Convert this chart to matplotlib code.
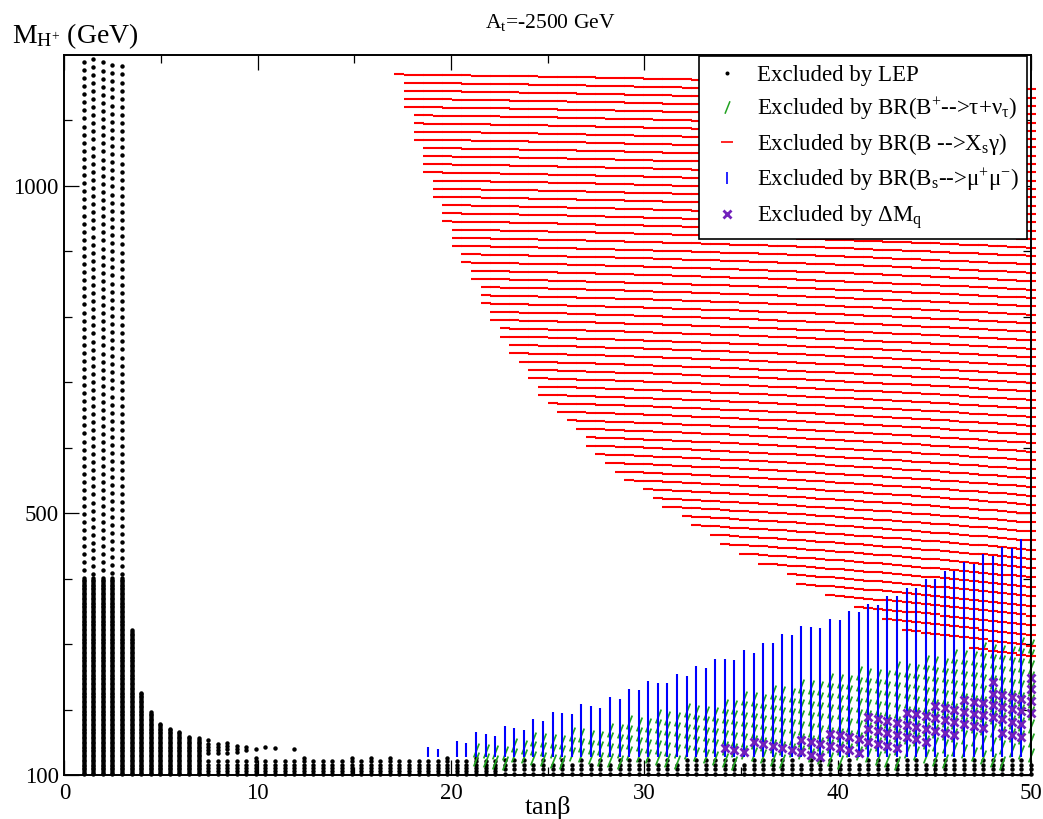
import numpy as np
import matplotlib.pyplot as plt
from matplotlib.path import Path
from matplotlib.lines import Line2D

plt.rcParams['font.family'] = 'Liberation Serif'
plt.rcParams['mathtext.fontset'] = 'custom'
plt.rcParams['mathtext.rm'] = 'Liberation Serif'
plt.rcParams['mathtext.it'] = 'Liberation Serif:italic'

# scan grid: 100 tan(beta) columns, M_A rows (GeV)
tanb = np.linspace(1.0, 50.0, 100)
mA_rows = np.arange(1183.0, 0.0, -12.4)
MW = 80.4
loop_c = 24.0          # tan(beta)^2 shift of M_H+^2 (GeV^2), read from row slopes

# LEP: dense columns, bulk top per column (GeV)
lep_top = [402, 402, 402, 402, 402, 321, 228, 198, 180, 173,
           166, 160, 156, 125, 125, 125, 125, 125, 127, 124,
           125, 122, 125, 127, 123, 125, 122, 125, 128, 124,
           127, 123, 127, 123, 125, 122, 125, 123, 126, 122,
           125, 128, 124, 122, 125.5, 128, 125.5, 121, 125.5, 121,
           125.5, 123, 125.5, 121.5, 125.5, 120, 128, 124, 128, 124,
           121.5, 124, 118.5, 128, 125.5, 126, 128, 124, 128, 122,
           128, 126, 129, 124, 128, 123, 129, 126, 128, 121,
           124, 120, 130.5, 128, 123, 129.5, 128, 130.5, 123, 128,
           129, 128, 130.5, 128, 125.5, 130.5, 128, 129, 130.5, 120]
lep_step = [2.5] * 13 + [5.0] * 31 + [7.5] * 56
# LEP: separate upper clusters (column, low, high)
lep_up_col = [13, 14, 15, 16, 17, 18, 19, 20, 22]
lep_up_lo = [133, 133, 134, 135, 138, 139, 143, 141, 140]
lep_up_hi = [153, 151, 149, 149, 146, 139, 143, 141, 140]
# LEP: regular scan rows above the dense part for tan(beta) <= 3
lep_row_shift = [4, 9, 3, -1, -3]

# B -> Xs gamma: lowest excluded M_H+ per column (columns 33..99)
red_cols = list(range(33, 100))
red_lo = [1165, 1112, 1062, 1016, 979, 940, 904, 871, 847, 818,
          792, 766, 743, 721, 700, 680, 662, 644, 634, 618,
          603, 589, 575, 562, 550, 538, 527, 516, 506, 496,
          486, 477, 468, 460, 452, 444, 436, 429, 422, 415,
          408, 402, 390, 384, 378, 372, 367, 362, 352, 346,
          342, 337, 332, 321, 317, 312, 308, 304, 300, 297,
          293, 289, 286, 282, 279, 276, 273]

# Bs -> mu mu: top of excluded strip per column (columns 36..99)
blue_cols = list(range(36, 100))
blue_top = [143, 140, np.nan, 152, 149, 165, 162, 159, 175, 172,
            169, 185, 182, 197, 194, 193, 208, 205, 203, 219,
            216, 231, 230, 243, 241, 240, 254, 252, 266, 264,
            278, 277, 275, 291, 287, 302, 301, 315, 314, 327,
            326, 324, 338, 337, 350, 349, 362, 360, 373, 373,
            386, 386, 399, 399, 412, 411, 425, 423, 437, 435,
            448, 447, 461, 460]
blue_bottom = 127

# B+ -> tau nu: excluded band per column (columns 41..99)
green_cols = list(range(41, 100))
green_lo = 118
green_hi = [140, 141, 144, 147, 150, 152, 156, 158, 161, 164,
            166, 168, 169, 171, 173, 176, 181, 186, 190, 194,
            197, 199, 201, 204, 206, 208, 210, 214, 218, 222,
            226, 230, 233, 236, 240, 244, 247, 250, 252, 254,
            256, 258, 261, 264, 267, 271, 274, 277, 280, 284,
            287, 290, 293, 295, 297, 299, 301, 303, 305]

# Delta M_q: highest excluded M_H+ and number of excluded rows (columns 67..99)
purple_cols = list(range(67, 100))
purple_top = [138, 133, 129, 151, 146, 143, 141, 138, 158, 154,
              152, 171, 168, 166, 163, 181, 178, 175, 172, 194,
              191, 188, 205, 202, 199, 219, 216, 213, 234, 231,
              228, 225, 245]
purple_n = [1, 1, 1, 1, 1, 1, 1, 1, 2, 2,
            2, 2, 2, 2, 2, 3, 3, 3, 3, 3,
            3, 3, 3, 3, 3, 3, 3, 3, 4, 4,
            4, 4, 4]


def mhc(i, rows=mA_rows):
    m2 = rows ** 2 + MW ** 2 - loop_c * tanb[i] ** 2
    return np.sqrt(m2[m2 > 0])


def grid_points(cols, lo, hi, rows=mA_rows):
    xs, ys = [], []
    for i, a, b in zip(cols, lo, hi):
        m = mhc(i, rows)
        m = m[(m >= a) & (m <= b)]
        xs += [tanb[i]] * len(m)
        ys += list(m)
    return xs, ys


# LEP points
lx, ly = [], []
for i in range(100):
    m = np.arange(101.0, lep_top[i] + 0.01, lep_step[i])
    lx += [tanb[i]] * len(m)
    ly += list(m)
for i, a, b in zip(lep_up_col, lep_up_lo, lep_up_hi):
    m = np.arange(a, b + 0.01, 5.0)
    lx += [tanb[i]] * len(m)
    ly += list(m)
for i, s in enumerate(lep_row_shift):
    m = mhc(i) + s
    m = m[m > lep_top[i] + 4]
    lx += [tanb[i]] * len(m)
    ly += list(m)

gx, gy = grid_points(green_cols, [green_lo] * len(green_cols), green_hi)
rx, ry = grid_points(red_cols, red_lo, [1e4] * len(red_cols), rows=mA_rows[1:])

px, py = [], []
for i, top, n in zip(purple_cols, purple_top, purple_n):
    m = np.sort(mhc(i))
    m = m[m <= top + 8][-n:]
    px += [tanb[i]] * len(m)
    py += list(m)

slash = Path([(-0.4, -1.0), (0.4, 1.0)], [Path.MOVETO, Path.LINETO])
green_c = '#22a322'
purple_c = '#7221bc'

fig = plt.figure(figsize=(10.43, 8.19), dpi=100)
ax = fig.add_axes([0.0617, 0.0537, 0.9268, 0.8791])

ax.plot(lx, ly, ls='none', marker='o', ms=3.2, mew=0, color='k', clip_on=False)
ax.plot(gx, gy, ls='none', marker=slash, ms=10, mew=1.25, color=green_c, clip_on=False)
ax.plot(rx, ry, ls='none', marker='_', ms=7.4, mew=1.5, color='red', clip_on=False)
bt = np.array(blue_top)
ok = ~np.isnan(bt)
ax.vlines(tanb[np.array(blue_cols)][ok], blue_bottom, bt[ok], color='blue', lw=1.5)
ax.plot(px, py, ls='none', marker='x', ms=6.3, mew=2.0, color=purple_c, clip_on=False)

ax.set_xlim(0, 50)
ax.set_ylim(100, 1200)
ax.set_xticks([0, 10, 20, 30, 40, 50])
ax.set_xticks([5, 15, 25, 35, 45], minor=True)
ax.set_yticks([100, 500, 1000])
ax.set_yticks([200, 300, 400, 600, 700, 800, 900, 1100], minor=True)
ax.tick_params(which='both', direction='in', top=True, right=True, width=0.9)
ax.tick_params(which='major', length=11, labelsize=16.5)
ax.tick_params(which='minor', length=5.8)
ax.tick_params(axis='x', which='major', pad=6)
ax.tick_params(axis='y', which='major', pad=4)
for s in ax.spines.values():
    s.set_linewidth(1.4)
    s.set_zorder(5)

ax.set_xlabel(r'tan$\mathregular{\beta}$', fontsize=19)
ax.xaxis.set_label_coords(0.5, -0.026)
fig.text(12 / 1043, 1 - 43 / 819, r'M$_{\mathregular{H}^{+}}$ (GeV)', fontsize=20, va='baseline')
fig.text(550 / 1043, 1 - 28 / 819, r'A$_{\mathregular{t}}$=-2500 GeV', fontsize=15.5, ha='center', va='baseline')

handles = [
    Line2D([], [], ls='none', marker='o', ms=2.9, mew=0, color='k'),
    Line2D([], [], ls='none', marker=slash, ms=9, mew=1.1, color=green_c),
    Line2D([], [], ls='none', marker='_', ms=8, mew=1.2, color='red'),
    Line2D([], [], ls='none', marker='|', ms=9, mew=1.2, color='blue'),
    Line2D([], [], ls='none', marker='x', ms=5.5, mew=2.0, color=purple_c),
]
labels = [
    'Excluded by LEP',
    r'Excluded by BR(B$^{+}$-->τ+ν$_{\mathregular{τ}}$)',
    r'Excluded by BR(B -->X$_{\mathregular{s}}$γ)',
    r'Excluded by BR(B$_{\mathregular{s}}$-->μ$^{+}$μ$^{-}$)',
    r'Excluded by ΔM$_{\mathregular{q}}$',
]
leg = ax.legend(handles, labels, loc='upper right', bbox_to_anchor=(0.9959, 0.998),
                borderaxespad=0, fancybox=False, edgecolor='k', framealpha=1,
                fontsize=16.5, handlelength=1.8, handletextpad=0.4, borderpad=0.35,
                labelspacing=0.42, numpoints=1)
leg.get_frame().set_linewidth(1.2)
leg.set_zorder(6)

fig.savefig('out.png', dpi=100)
